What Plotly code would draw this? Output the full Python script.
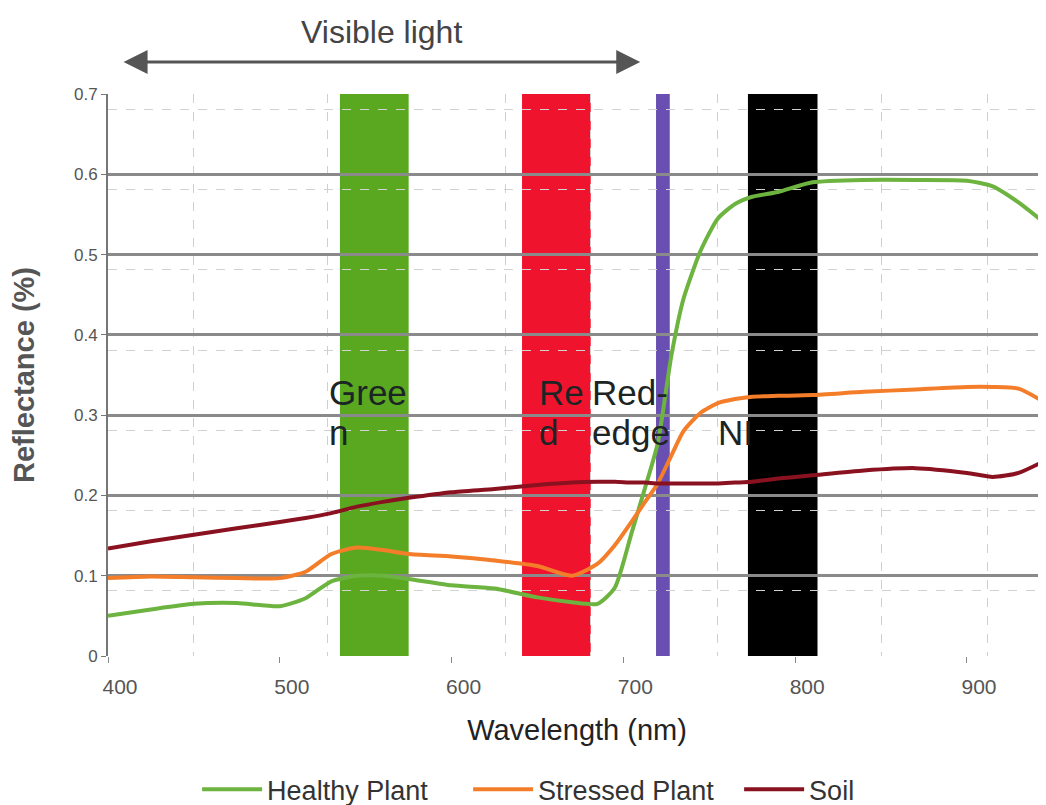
import plotly.graph_objects as go

# ---- data ----
wavelength = [400, 425, 450, 475, 500, 515, 530, 545, 560, 575, 600, 625, 650, 670, 685,
              695, 705, 712, 720, 728, 735, 745, 755, 765, 775, 790, 810, 840, 870, 900,
              915, 930, 946]
healthy = [0.050, 0.058, 0.065, 0.066, 0.062, 0.072, 0.093, 0.100, 0.100, 0.096, 0.088,
           0.084, 0.073, 0.067, 0.065, 0.085, 0.155, 0.205, 0.265, 0.375, 0.445, 0.505,
           0.545, 0.563, 0.572, 0.578, 0.590, 0.593, 0.593, 0.592, 0.585, 0.565, 0.538]
stressed = [0.097, 0.099, 0.098, 0.097, 0.097, 0.105, 0.127, 0.135, 0.132, 0.127, 0.124,
            0.119, 0.112, 0.100, 0.115, 0.138, 0.168, 0.190, 0.215, 0.250, 0.280, 0.303,
            0.315, 0.320, 0.323, 0.324, 0.325, 0.329, 0.332, 0.335, 0.335, 0.333, 0.315]
soil = [0.134, 0.143, 0.151, 0.159, 0.167, 0.172, 0.178, 0.186, 0.192, 0.197, 0.204,
        0.208, 0.213, 0.216, 0.217, 0.217, 0.216, 0.216, 0.215, 0.215, 0.215, 0.215,
        0.215, 0.216, 0.217, 0.221, 0.225, 0.231, 0.234, 0.228, 0.223, 0.228, 0.244]

series_names = ["Healthy Plant", "Stressed Plant", "Soil"]

band_label_line1 = ["Gree", "Re", "Red-", ""]
band_label_line2 = ["n", "d", "edge", "NI"]
band_start = [535, 641, 719, 772.5]
band_end = [575, 681, 727, 813]
band_label_x = [527.5, 649.5, 680.6, 754]

x_ticks = [400, 500, 600, 700, 800, 900]
y_ticks = [0, 0.1, 0.2, 0.3, 0.4, 0.5, 0.6, 0.7]
y_tick_text = ["0", "0.1", "0.2", "0.3", "0.4", "0.5", "0.6", "0.7"]
x_dash_grid = [449.5, 527.5, 631.1, 680.6, 754.5, 850.5, 912.2]
visible_range = [408.2, 709.8]

# ---- styles ----
line_colors = ["#6cb33f", "#f47d2a", "#8a1220"]
band_colors = ["#59a820", "#f0132e", "#6a4fb3", "#000000"]
FONT = "Liberation Sans"

fig = go.Figure()
for name, vals, col in zip(series_names, [healthy, stressed, soil], line_colors):
    fig.add_trace(go.Scatter(
        x=wavelength, y=vals, name=name, mode="lines",
        line=dict(color=col, width=4, shape="spline", smoothing=0.6),
    ))

for s, e, c in zip(band_start, band_end, band_colors):
    fig.add_shape(type="rect", xref="x", yref="y", x0=s, x1=e, y0=0, y1=0.7,
                  fillcolor=c, line_width=0, layer="below")

for l1, l2, lx in zip(band_label_line1, band_label_line2, band_label_x):
    for txt, yy in ((l1, 0.328), (l2, 0.278)):
        if txt:
            fig.add_annotation(x=lx, y=yy, xref="x", yref="y", text=txt, showarrow=False,
                               xanchor="left", yanchor="middle", align="left",
                               font=dict(family=FONT, size=35, color="#1c2424"))

# Visible light arrow
fig.add_annotation(x=visible_range[1], y=1.057, ax=visible_range[0], ay=0,
                   xref="x", yref="paper", axref="x", ayref="pixel",
                   text="", showarrow=True, arrowhead=2, arrowside="end+start",
                   arrowsize=1.6, arrowwidth=3, arrowcolor="#555555")
fig.add_annotation(x=(visible_range[0] + visible_range[1]) / 2, y=1.11,
                   xref="x", yref="paper", text="Visible light", showarrow=False,
                   yanchor="middle", font=dict(family=FONT, size=32, color="#444444"))

fig.update_layout(
    width=1046, height=805,
    margin=dict(l=100, r=8, t=86, b=157, autoexpand=False),
    paper_bgcolor="white", plot_bgcolor="white",
    font=dict(family=FONT, color="#444444"),
    showlegend=True,
    legend=dict(orientation="h", x=0.095, xanchor="left", y=-0.238, yanchor="middle",
                font=dict(family=FONT, size=27, color="#333333"), itemwidth=60,
                entrywidth=196, entrywidthmode="pixels",
                bgcolor="rgba(0,0,0,0)"),
)
fig.update_xaxes(
    range=[400, 946], tickvals=x_ticks, ticks="outside", ticklen=6, tickcolor="#888",
    tickfont=dict(family=FONT, size=21, color="#555555"),
    ticklabelstandoff=6, ticklabelshift=12,
    showgrid=False, zeroline=False, showline=False, automargin=False,
    minor=dict(tickmode="array", tickvals=x_dash_grid, showgrid=True,
               gridcolor="#cfcfcf", gridwidth=1, griddash="dash", ticks=""),
    title=dict(text="Wavelength (nm)", font=dict(family=FONT, size=29, color="#222222"),
               standoff=22),
)
fig.update_yaxes(
    range=[0, 0.7], tickvals=y_ticks, ticktext=y_tick_text, ticks="outside", ticklen=5,
    tickcolor="#777", tickfont=dict(family=FONT, size=17, color="#555555"),
    showgrid=True, gridcolor="#8a8a8a", gridwidth=2.5, zeroline=False,
    showline=True, linecolor="#777777", linewidth=2, automargin=False,
    minor=dict(tick0=0.081, dtick=0.1, showgrid=True, gridcolor="#d2d2d2",
               gridwidth=1, griddash="dash", ticks=""),
    title=dict(text="<b>Reflectance (%)</b>", font=dict(family=FONT, size=29, color="#555555"),
               standoff=31),
)

fig.write_html("out.html")
